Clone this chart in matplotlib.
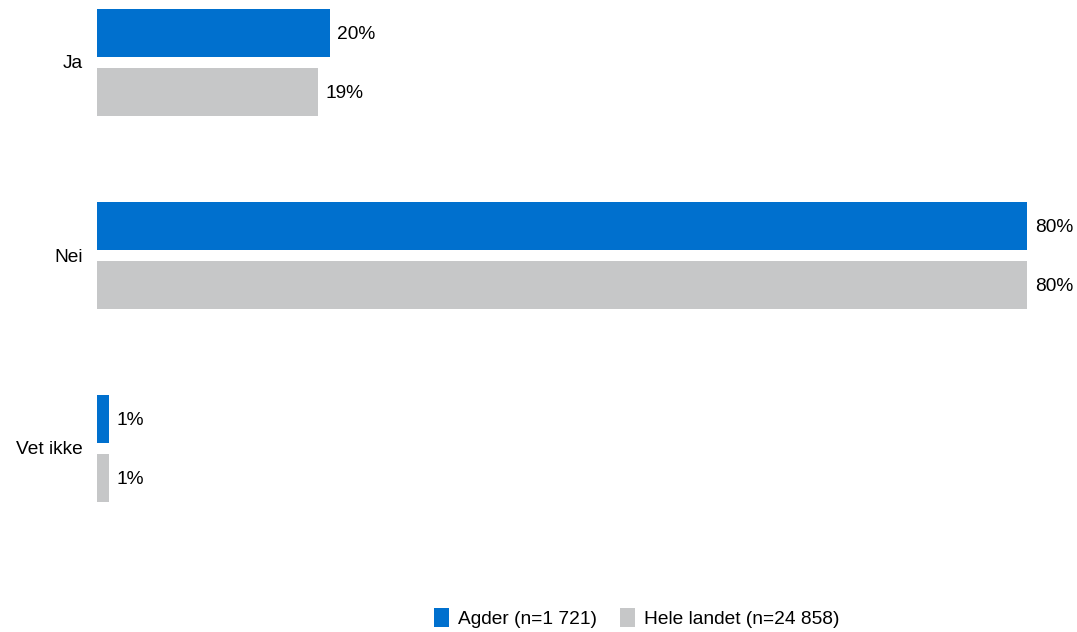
import matplotlib
matplotlib.use("Agg")
import matplotlib.pyplot as plt
import numpy as np

plt.rcParams['font.family'] = ['Liberation Sans', 'DejaVu Sans']

categories = ["Ja", "Nei", "Vet ikke"]
agder = [20, 80, 1]
hele_landet = [19, 80, 1]
series_names = ["Agder (n=1 721)", "Hele landet (n=24 858)"]
colors = ["#0070CE", "#C6C7C8"]

W, H = 1077, 632
fs = 13.8
fig = plt.figure(figsize=(W / 100, H / 100), dpi=100)

# group spacing is 193 px, first group centre at 62 px from top
gap = 193.0
top0 = 62.0
ax = fig.add_axes([97 / W, 0, 930 / W, 1])
ax.set_xlim(0, 80)
ax.set_ylim((H - top0) / gap, -top0 / gap)

y = np.arange(len(categories))
bh = 48 / gap
off = 29.5 / gap
for vals, name, col, sign in [(agder, series_names[0], colors[0], -1),
                              (hele_landet, series_names[1], colors[1], 1)]:
    bars = ax.barh(y + sign * off, vals, height=bh, color=col, label=name)
    for b, v in zip(bars, vals):
        ax.annotate(f"{v}%", (b.get_width(), b.get_y() + b.get_height() / 2),
                    xytext=(5.5, 0), textcoords="offset points",
                    va="center_baseline", ha="left", fontsize=fs,
                    annotation_clip=False)

ax.set_yticks(y)
ax.set_yticklabels(categories, fontsize=fs, va="center_baseline")
ax.tick_params(axis="y", length=0, pad=10)
ax.set_xticks([])
for s in ax.spines.values():
    s.set_visible(False)

fig.legend(loc="center", bbox_to_anchor=(637 / W, 1 - 618 / H), ncol=2,
           frameon=False, fontsize=fs, handlelength=0.75, handleheight=1.1,
           handletextpad=0.5, columnspacing=1.2)

fig.savefig("out.png", dpi=100)
